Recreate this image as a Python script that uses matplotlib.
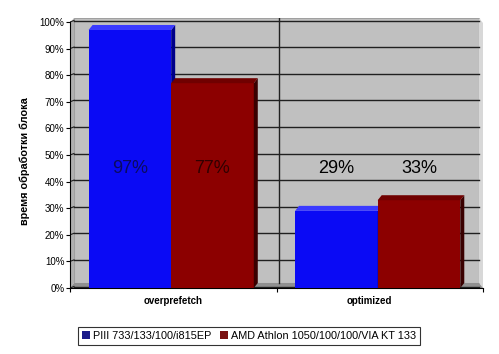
import matplotlib
matplotlib.use("Agg")
import matplotlib.pyplot as plt
from matplotlib.patches import Polygon, Rectangle, Patch

categories = ["overprefetch", "optimized"]
series_names = ["PIII 733/133/100/i815EP", "AMD Athlon 1050/100/100/VIA KT 133"]
pIII = [0.97, 0.29]
amd = [0.77, 0.33]
yticks = [0, 0.1, 0.2, 0.3, 0.4, 0.5, 0.6, 0.7, 0.8, 0.9, 1.0]
ytick_labels = ["0%", "10%", "20%", "30%", "40%", "50%", "60%", "70%", "80%", "90%", "100%"]
value_labels = [["97%", "29%"], ["77%", "33%"]]

plt.rcParams['font.family'] = ['Liberation Sans', 'DejaVu Sans']

W, H = 499, 354
fig = plt.figure(figsize=(W / 100, H / 100), dpi=100)
x0, x1 = 70, 483
y0, y100 = 288, 22
ytop = 18
ax = fig.add_axes([x0 / W, (H - y0) / H, (x1 - x0) / W, (y0 - ytop) / H])
ymax = (y0 - ytop) / (y0 - y100)
ax.set_xlim(0, 2)
ax.set_ylim(0, ymax)

px_x = 2 / (x1 - x0)
px_y = 1 / (y0 - y100)
dx, dy = 4 * px_x, 5 * px_y

wall = "#c0c0c0"
ax.set_facecolor("white")
ax.add_patch(Rectangle((dx, dy), 2 - 2 * dx, ymax - dy, facecolor=wall, edgecolor="#a0a0a0", lw=0.8, zorder=0))
ax.add_patch(Polygon([(0, 0), (dx, dy), (dx, ymax), (0, ymax - dy)], closed=True, facecolor="#b0b0b0", edgecolor="none", zorder=0))
ax.add_patch(Polygon([(2, 0), (2 - dx, dy), (2 - dx, ymax), (2, ymax - dy)], closed=True, facecolor="#d8d8d8", edgecolor="none", zorder=0))
ax.add_patch(Polygon([(0, 0), (2, 0), (2 - dx, dy), (dx, dy)], closed=True, facecolor="#909090", edgecolor="none", zorder=0))

for t in yticks:
    ax.plot([dx, 2 - dx], [t + dy * 0.3, t + dy * 0.3], color="#202020", lw=1.0, zorder=1)
    ax.plot([0, dx], [t, t + dy * 0.3], color="#202020", lw=0.8, zorder=1)
ax.plot([1 + dx / 2, 1 + dx / 2], [dy, ymax], color="#202020", lw=1.0, zorder=1)

colors = ["#0a0af5", "#8c0000"]
sides = ["#00008a", "#3a0000"]
tops = ["#3a3aff", "#700000"]
width = 0.40
centers = [0.49, 1.49]


def bar3d(xl, w, h, c, side, top, z):
    ax.add_patch(Rectangle((xl, 0), w, h, facecolor=c, edgecolor="none", zorder=z))
    ax.add_patch(Polygon([(xl + w, 0), (xl + w + dx, dy), (xl + w + dx, h + dy), (xl + w, h)],
                         closed=True, facecolor=side, edgecolor="none", zorder=z))
    ax.add_patch(Polygon([(xl, h), (xl + dx, h + dy), (xl + w + dx, h + dy), (xl + w, h)],
                         closed=True, facecolor=top, edgecolor="none", zorder=z))


for i, c in enumerate(centers):
    bar3d(c - width, width, pIII[i], colors[0], sides[0], tops[0], 3)
    bar3d(c, width, amd[i], colors[1], sides[1], tops[1], 4)

label_y = (y0 - 168) / (y0 - y100)
label_colors = [["#0b0b60", "black"], ["#300000", "black"]]
for s in range(2):
    for i, c in enumerate(centers):
        xc = c - width / 2 if s == 0 else c + width / 2
        ax.text(xc, label_y, value_labels[s][i], ha="center", va="center", fontsize=13,
                color=label_colors[s][i], zorder=10)

ax.set_yticks(yticks)
ax.set_yticklabels(ytick_labels, fontsize=7)
ax.set_xticks([0, 1, 2])
ax.set_xticklabels([])
ax.tick_params(axis="y", length=3, width=0.8, pad=1, color="black")
ax.tick_params(axis="x", length=3, width=0.8, color="black")
for sp in ["top", "right"]:
    ax.spines[sp].set_visible(False)
ax.spines["left"].set_linewidth(0.8)
ax.spines["bottom"].set_linewidth(0.8)
ax.spines["left"].set_bounds(0, 1.0)

for i, cat in enumerate(categories):
    ax.text(i + 0.5 - 0.05 * i, -13 * px_y, cat, ha="center", va="center", fontsize=7, fontweight="bold")

fig.text(25 / W, 1 - 161 / H, "время обработки блока", rotation=90, ha="center", va="center",
         fontsize=7.8, fontweight="bold")

handles = [Patch(facecolor="#1a1a8a", edgecolor="none"), Patch(facecolor="#7a1010", edgecolor="none")]
leg = fig.legend(handles, series_names, loc="center", bbox_to_anchor=(249 / W, 1 - 336 / H), ncol=2,
                 fontsize=7.8, frameon=True, fancybox=False, edgecolor="black", handlelength=0.7,
                 handleheight=0.7, handletextpad=0.3, columnspacing=0.8, borderpad=0.35)
leg.get_frame().set_linewidth(0.8)

fig.savefig("out.png", dpi=100)
